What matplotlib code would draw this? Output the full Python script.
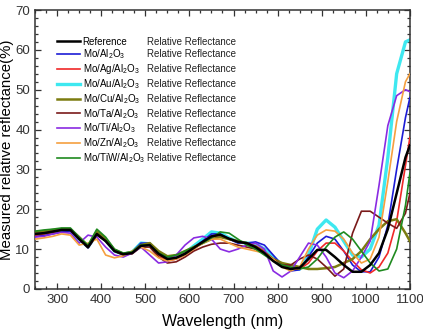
"""Measured relative reflectance of Mo/X/Al2O3 coatings vs wavelength."""

import matplotlib
matplotlib.use("Agg")
import matplotlib.pyplot as plt
from matplotlib.ticker import MultipleLocator

plt.rcParams["font.family"] = ["Liberation Sans", "DejaVu Sans"]
plt.rcParams["mathtext.fontset"] = "custom"
plt.rcParams["mathtext.rm"] = "Liberation Sans"
plt.rcParams["mathtext.it"] = "Liberation Sans:italic"

# ── data ──────────────────────────────────────────────────────────────────────
wavelength = [250, 270, 290, 310, 330, 350, 370, 390, 410, 430, 450, 470, 490,
              510, 530, 550, 570, 590, 610, 630, 650, 670, 690, 710, 730, 750,
              770, 790, 810, 830, 850, 870, 890, 910, 930, 950, 970, 990, 1010,
              1030, 1050, 1070, 1090, 1100]

reference = [13.8, 14.0, 14.4, 14.8, 14.8, 12.5, 10.5, 13.8, 12.0, 9.5, 8.7, 9.0, 10.8,
             11.0, 8.8, 7.5, 7.8, 8.8, 10.3, 11.8, 13.2, 13.6, 12.6, 11.8, 11.5, 10.5,
             9.0, 7.0, 5.5, 5.0, 5.3, 7.5, 9.8, 9.8, 8.0, 6.0, 4.3, 4.3, 6.0,
             9.0, 15.0, 24.0, 33.0, 36.0]
mo_al2o3 = [13.2, 13.4, 13.8, 14.3, 14.5, 12.5, 10.3, 13.5, 12.2, 9.8, 8.8, 9.2, 11.5,
            11.5, 9.0, 7.5, 7.8, 9.0, 10.5, 12.0, 13.8, 13.8, 12.5, 11.5, 11.5, 11.8,
            11.0, 8.5, 6.0, 4.5, 4.8, 8.0, 11.5, 13.2, 12.5, 9.5, 6.0, 4.3, 4.3,
            8.0, 16.0, 30.0, 43.0, 48.0]
mo_ag = [13.5, 13.8, 14.2, 14.8, 14.8, 12.5, 10.5, 14.0, 12.5, 9.5, 8.5, 9.0, 11.0,
         11.0, 8.5, 7.0, 7.5, 8.5, 10.0, 11.5, 13.0, 13.5, 12.5, 11.8, 11.5, 10.8,
         9.5, 7.5, 5.8, 5.0, 5.0, 6.5, 9.5, 11.5, 11.5, 9.5, 7.0, 4.8, 4.0,
         5.5, 9.0, 17.0, 31.0, 38.0]
mo_au = [13.5, 13.8, 14.2, 14.6, 14.6, 12.5, 10.5, 13.8, 12.2, 9.5, 8.7, 9.2, 11.5,
         11.3, 8.8, 7.5, 7.8, 9.0, 10.8, 12.5, 14.3, 14.0, 12.8, 11.8, 11.5, 11.3,
         10.0, 8.0, 6.0, 5.0, 5.0, 8.5, 15.0, 17.3, 15.5, 12.0, 8.5, 8.0, 10.0,
         16.0, 33.0, 54.0, 62.0, 62.5]
mo_cu = [14.3, 14.5, 14.8, 15.0, 15.0, 13.0, 10.8, 14.5, 12.5, 9.8, 8.8, 9.3, 11.0,
         11.5, 9.5, 8.2, 8.5, 9.5, 10.5, 11.5, 12.5, 13.0, 12.5, 12.0, 11.5, 10.5,
         9.0, 7.5, 6.5, 6.0, 5.5, 5.0, 5.0, 5.2, 5.5, 6.5, 7.5, 9.5, 12.5,
         15.0, 17.0, 17.5, 14.0, 12.0]
mo_ta = [13.8, 14.0, 14.3, 14.8, 14.8, 12.5, 10.3, 13.5, 12.0, 9.5, 8.5, 8.8, 10.5,
         10.5, 8.0, 6.5, 6.8, 8.0, 9.5, 10.5, 11.2, 11.5, 11.5, 11.0, 10.5, 10.0,
         9.0, 7.5, 6.0, 6.0, 7.5, 8.5, 7.5, 5.5, 3.2, 5.0, 14.0, 19.5, 19.5,
         18.0, 16.5, 15.2, 19.0, 24.0]
mo_ti = [13.0, 13.2, 13.8, 14.2, 14.0, 11.5, 13.5, 13.0, 10.5, 8.5, 8.0, 9.0, 10.5,
         8.5, 6.5, 6.8, 8.5, 11.0, 12.8, 13.2, 12.5, 10.0, 9.3, 10.0, 11.0, 11.5,
         10.0, 4.5, 3.0, 4.5, 8.0, 11.5, 11.0, 8.0, 4.0, 2.8, 4.5, 8.0, 12.0,
         26.0, 41.0, 48.5, 50.0, 49.5]
mo_zn = [12.5, 12.8, 13.2, 13.8, 13.5, 11.0, 11.5, 12.5, 8.5, 7.8, 8.3, 9.5, 10.5,
         9.5, 7.8, 7.0, 7.5, 8.5, 10.0, 11.5, 12.5, 12.5, 11.5, 10.5, 10.0, 9.5,
         9.0, 7.5, 5.5, 4.5, 5.5, 10.0, 13.5, 14.8, 14.5, 12.5, 9.0, 6.5, 7.5,
         13.0, 27.0, 42.0, 52.0, 54.0]
mo_tiw = [14.5, 14.8, 15.0, 15.3, 15.3, 13.0, 11.0, 15.0, 13.0, 10.0, 9.0, 9.3, 11.0,
          11.0, 9.0, 8.0, 8.5, 9.5, 10.5, 11.5, 12.8, 14.3, 14.0, 12.5, 11.0, 10.0,
          8.5, 7.0, 6.0, 5.5, 5.0, 5.5, 7.5, 10.5, 13.0, 14.3, 12.5, 9.5, 6.5,
          4.5, 5.0, 10.0, 21.0, 29.0]

names = ["Reference", "Mo/Al$_2$O$_3$", "Mo/Ag/Al$_2$O$_3$", "Mo/Au/Al$_2$O$_3$",
         "Mo/Cu/Al$_2$O$_3$", "Mo/Ta/Al$_2$O$_3$", "Mo/Ti/Al$_2$O$_3$",
         "Mo/Zn/Al$_2$O$_3$", "Mo/TiW/Al$_2$O$_3$"]
quantity = "Relative Reflectance"
series = [reference, mo_al2o3, mo_ag, mo_au, mo_cu, mo_ta, mo_ti, mo_zn, mo_tiw]
colors = ["#000000", "#1c1cd6", "#f02828", "#3ee8f0", "#7c7c10",
          "#7a1a1a", "#8a2be2", "#f5a040", "#1f8a1f"]
widths = [1.8, 1.2, 1.2, 2.4, 1.8, 1.2, 1.2, 1.2, 1.2]
zorders = [10, 3, 3, 2, 3, 3, 3, 3, 3]

# ── plot ───────────────────────────────────────────────────────────────────────
fig = plt.figure(figsize=(4.23, 3.34), dpi=100)
ax = fig.add_axes([0.083, 0.135, 0.886, 0.835])

handles = []
for y, c, lw, z in zip(series, colors, widths, zorders):
    h, = ax.plot(wavelength, y, color=c, linewidth=lw, zorder=z)
    handles.append(h)

ax.set_xlim(250, 1100)
ax.set_ylim(0, 70)
ax.xaxis.set_minor_locator(MultipleLocator(25))
ax.yaxis.set_major_locator(MultipleLocator(10))
ax.yaxis.set_minor_locator(MultipleLocator(2))
ax.set_xticks(range(300, 1101, 100))
ax.tick_params(which="both", direction="in", top=True, right=True,
               labelsize=9.5, colors="#333333", width=0.9)
ax.tick_params(which="major", length=4)
ax.tick_params(which="minor", length=2.2)
for s in ax.spines.values():
    s.set_linewidth(1.1)
    s.set_color("#333333")

ax.set_xlabel("Wavelength (nm)", fontsize=11.5, labelpad=6)
ax.set_ylabel("Measured relative reflectance(%)", fontsize=10.8)
ax.yaxis.set_label_coords(-0.056, 0.5)

leg = ax.legend(handles, names, loc="upper left", bbox_to_anchor=(0.058, 0.905),
                frameon=False, fontsize=7, labelspacing=0.1, borderpad=0,
                borderaxespad=0, handlelength=2.4, handletextpad=0.25)

# second column: same baseline as each legend label
fig.canvas.draw()
inv = ax.transAxes.inverted()
for t in leg.get_texts():
    base = t.get_transform().transform(t.get_position())
    _, yb = inv.transform(base)
    ax.text(0.298, yb, quantity, transform=ax.transAxes, fontsize=7,
            va="baseline", ha="left", color="#222222")

fig.savefig("out.png", dpi=100)
print("Saved out.png")
